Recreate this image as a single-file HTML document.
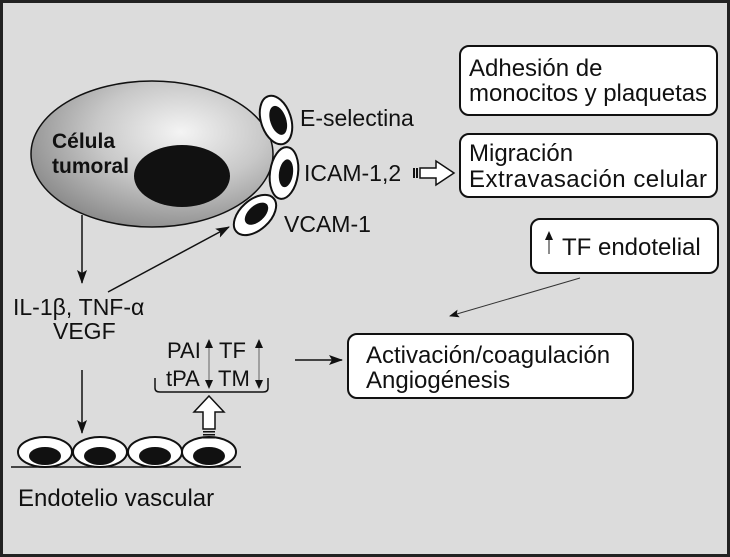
<!DOCTYPE html>
<html><head><meta charset="utf-8"><style>
html,body{margin:0;padding:0;background:#dcdcdc}
svg{display:block}
text{font-family:"Liberation Sans",sans-serif;fill:#111}
</style></head><body>
<svg width="730" height="557" viewBox="0 0 730 557" xmlns="http://www.w3.org/2000/svg">
<defs>
<radialGradient id="g" cx="0.62" cy="0.35" r="0.7">
<stop offset="0" stop-color="#f4f4f4"/><stop offset="0.5" stop-color="#c8c8c8"/><stop offset="1" stop-color="#8a8a8a"/>
</radialGradient>
<marker id="ah" markerWidth="10" markerHeight="8" refX="9" refY="4" orient="auto" markerUnits="userSpaceOnUse">
<path d="M0,0 L10,4 L0,8 L2,4z" fill="#111"/></marker>
<marker id="ah2" markerWidth="14" markerHeight="10" refX="13" refY="5" orient="auto" markerUnits="userSpaceOnUse">
<path d="M0,0 L14,5 L0,10 L3,5z" fill="#111"/></marker>
</defs>
<rect x="0" y="0" width="730" height="557" fill="#dcdcdc"/>
<rect x="1.5" y="1.5" width="727" height="554" fill="none" stroke="#222" stroke-width="3"/>

<ellipse cx="152" cy="154" rx="121" ry="73" fill="url(#g)" stroke="#111" stroke-width="1.5"/>
<ellipse cx="182" cy="176" rx="48" ry="31" fill="#111"/>
<text x="52" y="148" font-size="21" font-weight="bold">Célula</text>
<text x="52" y="173" font-size="21" font-weight="bold">tumoral</text>

<g transform="translate(276,120) rotate(-18)"><ellipse rx="15" ry="25" fill="#fff" stroke="#111" stroke-width="2"/><ellipse cx="2" cy="1" rx="8" ry="15" fill="#111"/></g>
<g transform="translate(284,173) rotate(8)"><ellipse rx="14" ry="26" fill="#fff" stroke="#111" stroke-width="2"/><ellipse cx="2" cy="0" rx="7" ry="14" fill="#111"/></g>
<g transform="translate(255,215) rotate(48)"><ellipse rx="15" ry="25" fill="#fff" stroke="#111" stroke-width="2"/><ellipse cx="0" cy="-2" rx="8" ry="14" fill="#111"/></g>
<text x="300" y="126" font-size="23">E-selectina</text>
<text x="304" y="181" font-size="23">ICAM-1,2</text>
<text x="284" y="232" font-size="23">VCAM-1</text>

<rect x="413" y="168" width="2" height="10" fill="#111"/>
<rect x="416" y="168" width="2" height="10" fill="#111"/>
<path d="M420,168 L436,168 L436,161 L454,173 L436,185 L436,178 L420,178z" fill="#fff" stroke="#111" stroke-width="1.5"/>

<rect x="460" y="46" width="257" height="69" rx="9" fill="#fff" stroke="#111" stroke-width="2"/>
<text x="469" y="76" font-size="24">Adhesión de</text>
<text x="469" y="101" font-size="24" textLength="238">monocitos y plaquetas</text>
<rect x="460" y="134" width="257" height="63" rx="9" fill="#fff" stroke="#111" stroke-width="2"/>
<text x="469" y="161" font-size="24">Migración</text>
<text x="469" y="187" font-size="24" textLength="238">Extravasación celular</text>
<rect x="531" y="219" width="187" height="54" rx="9" fill="#fff" stroke="#111" stroke-width="2"/>
<line x1="549" y1="254" x2="549" y2="238" stroke="#666" stroke-width="1.5"/>
<path d="M545,240 L549,231 L553,240z" fill="#111"/>
<text x="562" y="255" font-size="24">TF endotelial</text>
<line x1="580" y1="278" x2="450" y2="316" stroke="#333" stroke-width="1" marker-end="url(#ah)"/>
<rect x="348" y="334" width="285" height="64" rx="9" fill="#fff" stroke="#111" stroke-width="2"/>
<text x="366" y="363" font-size="24">Activación/coagulación</text>
<text x="366" y="388" font-size="24">Angiogénesis</text>
<line x1="295" y1="360" x2="342" y2="360" stroke="#111" stroke-width="1.5" marker-end="url(#ah2)"/>

<line x1="82" y1="215" x2="82" y2="283" stroke="#111" stroke-width="1.5" marker-end="url(#ah2)"/>
<line x1="108" y1="292" x2="229" y2="227" stroke="#111" stroke-width="1.5" marker-end="url(#ah2)"/>
<text x="13" y="315" font-size="23">IL-1β, TNF-α</text>
<text x="53" y="339" font-size="23">VEGF</text>
<line x1="82" y1="370" x2="82" y2="433" stroke="#111" stroke-width="1.5" marker-end="url(#ah2)"/>

<g stroke="#111" stroke-width="2" fill="#fff">
<ellipse cx="45" cy="452" rx="27" ry="15"/><ellipse cx="100" cy="452" rx="27" ry="15"/>
<ellipse cx="155" cy="452" rx="27" ry="15"/><ellipse cx="209" cy="452" rx="27" ry="15"/>
</g>
<g fill="#111">
<ellipse cx="45" cy="456" rx="16" ry="9"/><ellipse cx="100" cy="456" rx="16" ry="9"/>
<ellipse cx="155" cy="456" rx="16" ry="9"/><ellipse cx="209" cy="456" rx="16" ry="9"/>
</g>
<line x1="11" y1="467" x2="241" y2="467" stroke="#111" stroke-width="1.5"/>
<text x="18" y="506" font-size="24">Endotelio vascular</text>

<text x="167" y="358" font-size="22">PAI</text>
<text x="219" y="358" font-size="22">TF</text>
<text x="166" y="386" font-size="22">tPA</text>
<text x="218" y="386" font-size="22">TM</text>
<g stroke="#777" stroke-width="1.2">
<line x1="209" y1="345" x2="209" y2="380"/><line x1="259" y1="345" x2="259" y2="380"/>
</g>
<g fill="#111">
<path d="M205,348 L209,339 L213,348z"/><path d="M205,380 L209,389 L213,380z"/>
<path d="M255,348 L259,339 L263,348z"/><path d="M255,380 L259,389 L263,380z"/>
</g>
<path d="M155,378 L155,388 Q155,392 160,392 L263,392 Q268,392 268,388 L268,378" fill="none" stroke="#111" stroke-width="1.5"/>
<path d="M209,396 L224,412 L215,412 L215,429 L203,429 L203,412 L194,412z" fill="#fff" stroke="#111" stroke-width="1.5"/>
<g fill="#111"><rect x="203" y="431" width="12" height="1.5"/><rect x="203" y="434" width="12" height="1.5"/><rect x="203" y="437" width="12" height="1.5"/></g>
</svg>
</body></html>
